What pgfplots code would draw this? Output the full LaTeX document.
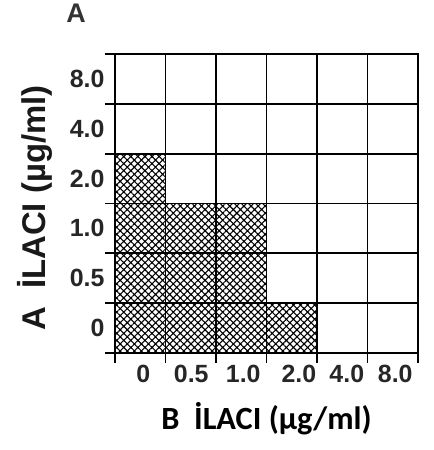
\documentclass[border=0pt]{standalone}
\usepackage{fontspec}
\setmainfont{Liberation Sans}
\newfontfamily\calib{Carlito}
\usepackage{pgfplots}
\pgfplotsset{compat=1.18}
\usetikzlibrary{patterns.meta}
\newcommand\tl{\fontsize{25}{27}\selectfont\bfseries}

\begin{document}
\begin{tikzpicture}
\path[use as bounding box] (-115bp,-97bp) rectangle (319bp,353bp);
\begin{axis}[
  at={(0,0)}, anchor=south west,
  scale only axis,
  width=303bp, height=299bp,
  xmin=0, xmax=6, ymin=0, ymax=6,
  axis on top,
  clip mode=individual,
  axis line style={line width=1.7bp, black},
  % cell boundaries: grid lines and outside ticks
  minor xtick={0,1,2,3,4,5,6},
  minor ytick={0,1,2,3,4,5,6},
  grid=minor,
  minor grid style={line width=1.7bp, black},
  minor tick length=10bp,
  every minor tick/.style={line width=1.7bp, black},
  tick align=outside,
  tick pos=left,
  % concentrations written at the cell centres
  major tick length=0pt,
  xtick={0.56,1.51,2.54,3.64,4.59,5.55},
  xticklabels={{\tl 0},{\tl 0.5},{\tl 1.0},{\tl 2.0},{\tl 4.0},{\tl 8.0}},
  ytick={0.5,1.5,2.5,3.5,4.5,5.5},
  yticklabels={{\tl 0},{\tl 0.5},{\tl 1.0},{\tl 2.0},{\tl 4.0},{\tl 8.0}},
  tick label style={text=black!85},
  xticklabel style={yshift=-9bp},
  yticklabel style={xshift=-7bp},
  xlabel={\calib\bfseries B\ \ İLACI (µg/ml)},
  ylabel={\bfseries A \ İLACI (µg/ml)},
  every axis x label/.style={at={(axis description cs:0.5,-0.22)}, anchor=center,
    font=\fontsize{32.5}{36}\selectfont, text=black},
  every axis y label/.style={at={(axis description cs:-0.264,0.485)}, anchor=center,
    rotate=90, font=\fontsize{33}{36}\selectfont, text=black!90},
]
% cells showing growth inhibition (checkerboard)
\addplot[draw=none, pattern={Hatch[angle=45, distance=5bp, line width=1.1bp]}, pattern color=black]
  coordinates {(0,0) (4,0) (4,1) (3,1) (3,3) (1,3) (1,4) (0,4) (0,0)};
\end{axis}
% panel letter
\node[font=\fontsize{27}{30}\selectfont\bfseries, text=black!80] at (-39bp,340bp) {A};
\end{tikzpicture}
\end{document}
